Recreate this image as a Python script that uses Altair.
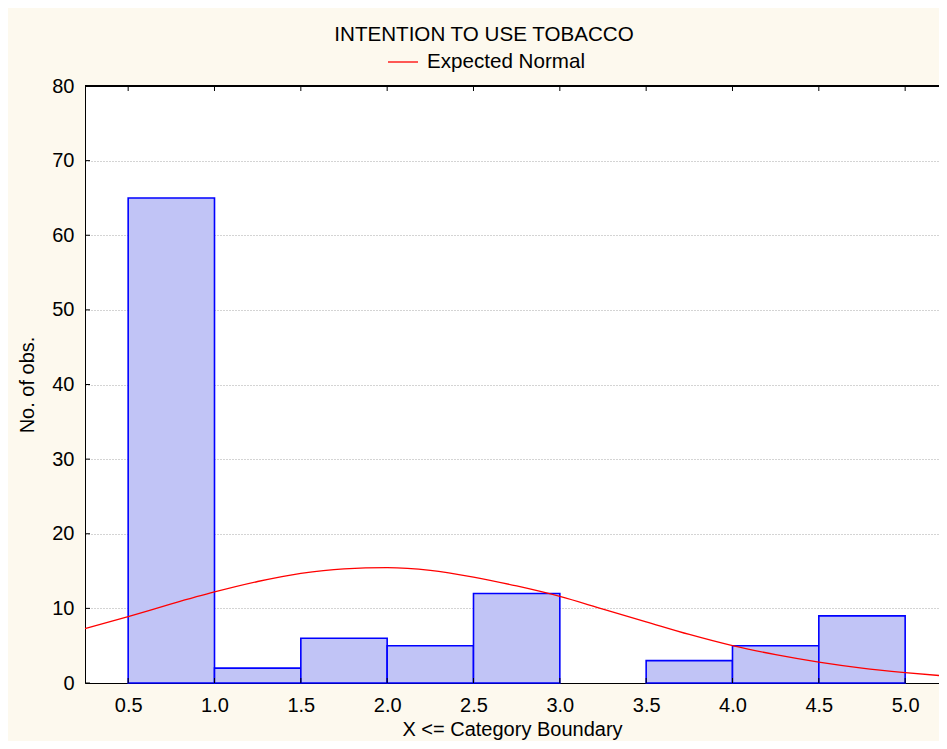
import altair as alt
import pandas as pd

# Histogram bins (lower, upper) and counts
bin_lo = [0.5, 1.0, 1.5, 2.0, 2.5, 3.0, 3.5, 4.0, 4.5]
bin_hi = [1.0, 1.5, 2.0, 2.5, 3.0, 3.5, 4.0, 4.5, 5.0]
counts = [65, 2, 6, 5, 12, 0, 3, 5, 9]

# Expected normal curve
curve_x = [0.25, 0.5, 0.75, 1.0, 1.25, 1.5, 1.75, 2.0, 2.25, 2.5, 2.75,
           3.0, 3.25, 3.5, 3.75, 4.0, 4.25, 4.5, 4.75, 5.0, 5.25]
curve_y = [7.3, 8.9, 10.6, 12.2, 13.6, 14.7, 15.3, 15.45, 15.1, 14.2, 13.0,
           11.6, 9.9, 8.2, 6.5, 5.0, 3.8, 2.8, 2.0, 1.4, 0.9]

x_ticks = [0.5, 1.0, 1.5, 2.0, 2.5, 3.0, 3.5, 4.0, 4.5, 5.0]
y_ticks = [0, 10, 20, 30, 40, 50, 60, 70, 80]

FONT = "Liberation Sans"
W, H = 854, 597

bars_df = pd.DataFrame({"lo": bin_lo, "hi": bin_hi, "count": counts})
curve_df = pd.DataFrame({"x": curve_x, "y": curve_y, "series": ["Expected Normal"] * len(curve_x)})
xt_df = pd.DataFrame({"x": x_ticks})
yt_df = pd.DataFrame({"y": y_ticks})

# right edge of the view lies at the window edge, as in the reference
xscale = alt.Scale(domain=[0.25, 5.196], nice=False, zero=False)
yscale = alt.Scale(domain=[0, 80], nice=False)

x_axis = alt.Axis(values=x_ticks, format=".1f", title="X <= Category Boundary",
                  grid=False, ticks=False, domainColor="black", labelFont=FONT,
                  labelFontSize=20, labelColor="black", labelPadding=12,
                  titleFont=FONT, titleFontSize=20, titleFontWeight="normal",
                  titleColor="black", titlePadding=4, labelFlush=False)
y_axis = alt.Axis(values=y_ticks, title="No. of obs.", grid=True, gridDash=[1, 2],
                  gridColor="#a8a8a8", ticks=False, domainColor="black",
                  labelFont=FONT, labelFontSize=20, labelColor="black",
                  labelPadding=11, titleFont=FONT, titleFontSize=20,
                  titleFontWeight="normal", titleColor="black", titlePadding=14)

bars = alt.Chart(bars_df).transform_filter("datum.count > 0").mark_bar(
    fill="#c1c4f6", stroke="#0000ff", strokeWidth=1.6
).encode(
    x=alt.X("lo:Q", scale=xscale, axis=x_axis),
    x2="hi:Q",
    y=alt.Y("count:Q", scale=yscale, axis=y_axis),
    y2=alt.datum(0),
)

line = alt.Chart(curve_df).mark_line(strokeWidth=1.3, interpolate="monotone", clip=True).encode(
    x=alt.X("x:Q", scale=xscale),
    y=alt.Y("y:Q", scale=yscale),
    color=alt.Color("series:N",
                    scale=alt.Scale(domain=["Expected Normal"], range=["#ff0000"]),
                    legend=alt.Legend(title=None, orient="none", legendX=302, legendY=-40,
                                      symbolType="stroke", symbolSize=900,
                                      symbolStrokeWidth=1.3, labelFont=FONT,
                                      labelFontSize=20.6, labelColor="black",
                                      labelOffset=8)),
)

# top frame line and inward ticks
top_line = alt.Chart(xt_df).mark_rule(color="black").encode(
    x=alt.value(0), x2=alt.value(W), y=alt.value(0))
top_ticks = alt.Chart(xt_df).mark_rule(color="black").encode(
    x=alt.X("x:Q", scale=xscale), y=alt.value(0), y2=alt.value(5))
bot_ticks = alt.Chart(xt_df).mark_rule(color="black").encode(
    x=alt.X("x:Q", scale=xscale), y=alt.value(H - 5), y2=alt.value(H))
left_ticks = alt.Chart(yt_df).mark_rule(color="black").encode(
    y=alt.Y("y:Q", scale=yscale), x=alt.value(0), x2=alt.value(5))

chart = alt.layer(bars, line, top_line, top_ticks, bot_ticks, left_ticks).properties(
    width=W, height=H,
    title=alt.TitleParams("INTENTION TO USE TOBACCO", font=FONT, fontSize=20.6,
                          fontWeight="normal", color="black", anchor="middle",
                          dx=-28, offset=0),
    background="#fdf9ee",
    padding={"left": 77, "top": 78, "right": 0, "bottom": 58},
    autosize=alt.AutoSizeParams(type="none"),
).configure_view(stroke=None, fill="white")

chart.save("out.html", embed_options={"renderer": "svg", "actions": False})
